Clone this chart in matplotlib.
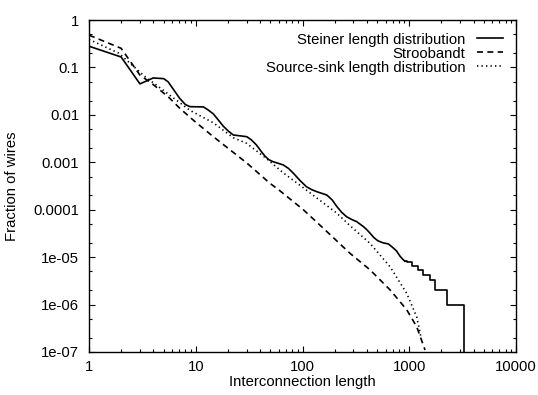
import numpy as np
import matplotlib
matplotlib.use("Agg")
import matplotlib.pyplot as plt
from matplotlib.ticker import FixedLocator, NullFormatter

plt.rcParams['font.family'] = ['Liberation Sans', 'DejaVu Sans']
plt.rcParams['font.size'] = 10.7

# Steiner length distribution (smooth part)
steiner_x = [1, 2, 3, 4, 5, 5.5, 6.2, 7.1, 8.0, 8.8, 11.8, 13, 14.6, 16.5, 18.2, 20.3,
             22.5, 30, 33, 37, 41, 44.5, 48.5, 53, 66, 74, 82, 95, 109, 122, 136, 169,
             190, 209, 233, 259, 290, 322, 372, 400, 429, 465, 510, 570, 637, 700, 760,
             819, 870, 910]
steiner_y = [0.28, 0.166, 0.045, 0.06, 0.058, 0.05, 0.034, 0.022, 0.0165, 0.0149, 0.0147,
             0.0128, 0.0105, 0.0075, 0.0057, 0.0045, 0.00376, 0.00347, 0.0030, 0.00232,
             0.0017, 0.00135, 0.00113, 0.00103, 8.8e-4, 7.4e-4, 5.9e-4, 4.1e-4, 3.05e-4,
             2.65e-4, 2.4e-4, 2.04e-4, 1.6e-4, 1.18e-4, 8.8e-5, 7.1e-5, 6.2e-5, 5.6e-5,
             4.4e-5, 3.8e-5, 3.2e-5, 2.6e-5, 2.2e-5, 2.0e-5, 1.9e-5, 1.6e-5, 1.35e-5,
             1.05e-5, 9e-6, 8.2e-6]
# Steiner tail (single-wire counts, staircase)
steiner_tail_x = [910, 953, 1060, 1200, 1350, 1560, 1755, 2260, 3260]
steiner_tail_y = [8.2e-6, 8e-6, 6.5e-6, 5.3e-6, 4.3e-6, 3.3e-6, 2e-6, 1e-6, 1e-9]

# Stroobandt model
stroo_x = [1, 2, 3, 3.87, 5.53, 7.1, 9.84, 14.6, 30, 49.6, 61.5, 101.8, 181, 279,
           429, 660, 946, 1175, 1406]
stroo_y = [0.48, 0.253, 0.069, 0.046, 0.024, 0.0137, 0.0072, 0.00347, 9.7e-4, 3.6e-4,
           2.5e-4, 1.0e-4, 3.0e-5, 1.2e-5, 5.4e-6, 2.05e-6, 7.8e-7, 3.4e-7, 1.1e-7]

# Source-sink length distribution
ss_x = [1, 1.9, 3.35, 5.15, 8.8, 14.6, 22.5, 30, 46, 66, 101.8, 150, 209, 279, 429,
        660, 946, 1175, 1280]
ss_y = [0.39, 0.2, 0.064, 0.031, 0.0125, 0.0068, 0.0033, 0.0025, 0.0012, 6.0e-4,
        2.9e-4, 1.5e-4, 8.5e-5, 4.6e-5, 1.95e-5, 6.3e-6, 1.73e-6, 5.5e-7, 2.2e-7]

ytick_vals = [1, 0.1, 0.01, 0.001, 0.0001, 1e-5, 1e-6, 1e-7]
ytick_labels = ["1", "0.1", "0.01", "0.001", "0.0001", "1e-05", "1e-06", "1e-07"]
xtick_vals = [1, 10, 100, 1000, 10000]
xtick_labels = ["1", "10", "100", "1000", "10000"]

fig = plt.figure(figsize=(5.38, 3.95), dpi=100)
ax = fig.add_axes([89 / 538, 1 - 352 / 395, (516 - 89) / 538, (352 - 20) / 395])

lw = 1.2
ax.plot(steiner_x, steiner_y, color='black', lw=lw, label='Steiner length distribution')
ax.plot(steiner_tail_x, steiner_tail_y, color='black', lw=lw, drawstyle='steps-post')
ax.plot(stroo_x, stroo_y, color='black', lw=lw, dashes=(3.6, 2.6), label='Stroobandt')
ax.plot(ss_x, ss_y, color='black', lw=lw, dashes=(0.8, 1.9),
        label='Source-sink length distribution')

ax.set_xscale('log')
ax.set_yscale('log')
ax.set_xlim(1, 10000)
ax.set_ylim(1e-7, 1)

ax.set_xticks(xtick_vals, xtick_labels)
ax.set_yticks(ytick_vals, ytick_labels)
ax.xaxis.set_minor_locator(FixedLocator([m * 10 ** e for e in range(0, 4) for m in range(2, 10)]))
ax.yaxis.set_minor_locator(FixedLocator([m * 10.0 ** e for e in range(-7, 0) for m in (2, 5)]))
ax.xaxis.set_minor_formatter(NullFormatter())
ax.yaxis.set_minor_formatter(NullFormatter())
ax.tick_params(which='both', direction='in', top=True, right=True, width=0.8)
ax.tick_params(which='major', length=4)
ax.tick_params(axis='y', which='major', pad=7)
ax.tick_params(axis='x', which='major', pad=6)
ax.tick_params(which='minor', length=2)
for s in ax.spines.values():
    s.set_linewidth(1.0)

ax.set_xlabel('Interconnection length')
ax.set_ylabel('Fraction of wires')
ax.xaxis.set_label_coords(0.5, -0.068)
ax.yaxis.set_label_coords(-0.163, 0.5)

ax.legend(loc='upper right', frameon=False, markerfirst=False, handlelength=1.8,
          handletextpad=0.74, labelspacing=0.0, borderaxespad=0.45, fontsize=10.7)

fig.savefig('out.png', dpi=100)
